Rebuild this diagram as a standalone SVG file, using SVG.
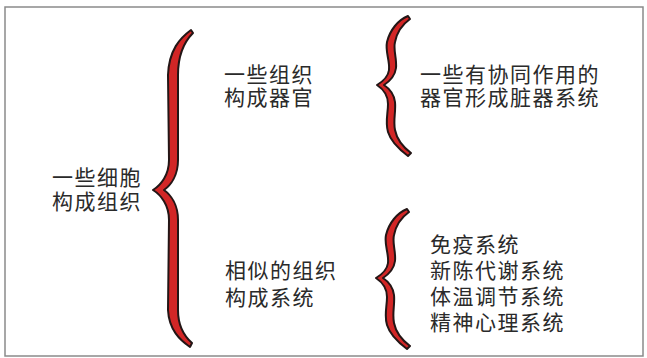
<svg xmlns="http://www.w3.org/2000/svg" width="647" height="358" viewBox="0 0 647 358">
<defs>
<style>
.t{font-family:"Liberation Sans","Noto Sans CJK SC",sans-serif;font-size:21px;fill:#2a2a2a;letter-spacing:1.5px}
.br{fill:#d22626;stroke:#231616;stroke-width:2;stroke-linejoin:round}
</style>
<path id="small" d="M 408,16 C 398,20 390,30 387,42 C 385,52 390,60 389,70 C 388,78 382,82 377,85 C 383,89 388,94 388,104 C 388,114 385,122 388,132 C 391,142 400,150 408,156 L 411,153 C 403,147 397,140 395,130 C 393,120 396,112 395,102 C 394,94 390,89 384,85 C 390,81 395,76 396,68 C 397,58 393,50 395,42 C 397,32 403,24 410,19 Z"/>
</defs>
<rect x="0" y="0" width="647" height="358" fill="#fff"/>
<rect x="5" y="7" width="638" height="349" fill="none" stroke="#8a8a8a" stroke-width="1.5"/>
<g id="connectors">
<path class="br" d="M 191,30 C 180,38 169,50 168,75 L 169,160 C 169,175 161,185 153,190 C 161,195 169,205 169,220 L 168,310 C 169,330 180,340 190,347 L 192,343 C 184,336 178,325 178,310 L 178,220 C 178,205 171,195 164,190 C 171,185 178,175 178,160 L 178,75 C 178,55 184,42 193,33 Z"/>
<use href="#small" class="br"/>
<use href="#small" class="br" transform="translate(-1,193)"/>
</g>
<g id="node-cells"><text class="t" x="52" y="185">一些细胞<tspan x="52" dy="23.6">构成组织</tspan></text></g>
<g id="node-organs"><text class="t" x="224" y="81.5">一些组织<tspan x="224" dy="23.6">构成器官</tspan></text></g>
<g id="node-organ-systems"><text class="t" x="420" y="81.5">一些有协同作用的<tspan x="420" dy="23.6">器官形成脏器系统</tspan></text></g>
<g id="node-systems"><text class="t" x="225" y="278">相似的组织<tspan x="225" dy="27">构成系统</tspan></text></g>
<g id="node-list"><text class="t" x="430" y="252">免疫系统<tspan x="430" dy="26">新陈代谢系统</tspan><tspan x="430" dy="26">体温调节系统</tspan><tspan x="430" dy="26">精神心理系统</tspan></text></g>
</svg>
